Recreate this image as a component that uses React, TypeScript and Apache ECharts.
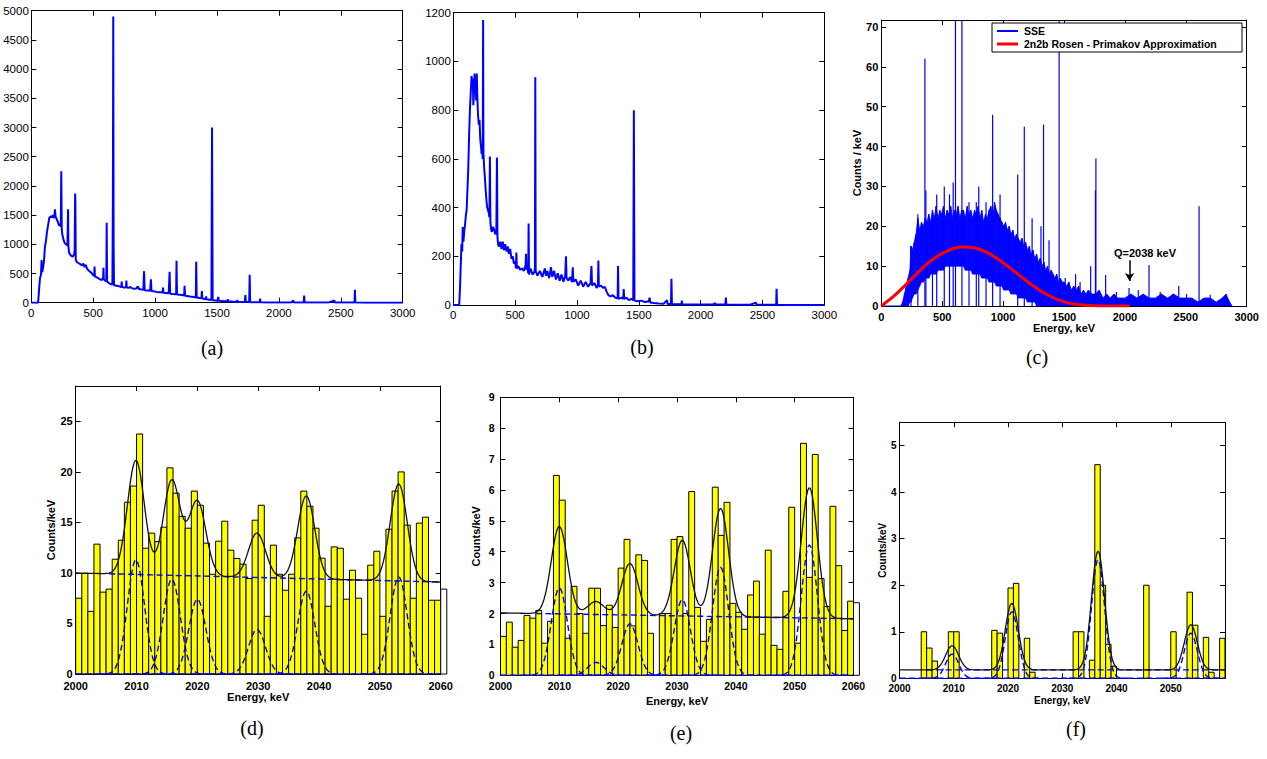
import React, { useEffect, useRef } from "react";
import * as echarts from "echarts";

// ---------- (a) spectrum: [energy keV, counts] ----------
const spectrumA: [number, number][] = [
  [0, 0], [55, 0], [62, 200], [70, 420], [78, 480], [83, 730], [88, 520], [95, 600], [102, 700], [110, 950],
  [118, 1050], [126, 1200], [135, 1320], [145, 1450], [155, 1480], [165, 1460], [175, 1500], [185, 1450],
  [191, 1600], [196, 1480], [205, 1430], [215, 1380], [225, 1320], [232, 1350], [238, 1300], [242, 2250],
  [246, 1250], [252, 1150], [260, 1080], [270, 1020], [280, 1000], [292, 980], [297, 1600], [300, 950],
  [305, 860], [315, 820], [325, 800], [335, 790], [345, 820], [350, 900], [354, 1870], [356, 1750],
  [359, 750], [365, 700], [380, 680], [395, 660], [410, 640], [420, 670], [430, 610], [440, 650], [450, 580],
  [460, 560], [470, 540], [480, 520], [490, 500], [500, 470], [508, 460], [511, 620], [514, 450], [525, 440],
  [540, 420], [555, 400], [570, 390], [580, 420], [583, 600], [586, 400], [600, 370], [606, 380], [609, 1370],
  [612, 360], [625, 340], [640, 320], [655, 310], [659, 1750], [662, 4900], [665, 1000], [668, 300],
  [690, 290], [710, 280], [727, 270], [730, 360], [733, 270], [750, 260], [765, 265], [768, 380], [771, 260],
  [790, 255], [800, 270], [810, 250], [830, 240], [850, 245], [860, 280], [870, 235], [890, 225], [905, 220],
  [911, 540], [916, 215], [940, 210], [960, 205], [966, 400], [971, 200], [990, 195], [1010, 185], [1030, 180],
  [1050, 180], [1060, 170], [1064, 260], [1068, 170], [1090, 165], [1110, 160], [1117, 530], [1122, 155],
  [1140, 150], [1160, 145], [1170, 150], [1173, 720], [1177, 140], [1200, 135], [1220, 130], [1235, 125],
  [1238, 290], [1242, 120], [1260, 115], [1280, 105], [1300, 100], [1320, 95], [1329, 90], [1332, 700],
  [1336, 88], [1360, 80], [1374, 75], [1378, 200], [1382, 72], [1400, 65], [1410, 60], [1412, 110],
  [1415, 58], [1440, 50], [1455, 45], [1460, 3000], [1465, 42], [1490, 38], [1505, 35], [1510, 100],
  [1515, 32], [1550, 28], [1580, 25], [1588, 55], [1592, 24], [1620, 20], [1660, 18], [1664, 45], [1668, 16],
  [1700, 14], [1725, 12], [1729, 130], [1733, 11], [1760, 10], [1764, 480], [1768, 9], [1800, 8], [1845, 7],
  [1848, 70], [1851, 6], [1900, 5], [2000, 4], [2100, 4], [2117, 40], [2121, 3], [2200, 3], [2204, 120],
  [2208, 3], [2300, 3], [2400, 2], [2448, 40], [2451, 2], [2550, 2], [2611, 2], [2614, 220], [2618, 2],
  [2700, 1], [2800, 1], [3000, 0],
];

// ---------- (b) spectrum ----------
const spectrumB: [number, number][] = [
  [0, 0], [48, 0], [55, 80], [60, 160], [66, 250], [72, 220], [76, 320], [82, 260], [88, 300], [95, 330],
  [102, 370], [108, 390], [115, 480], [121, 560], [128, 700], [135, 810], [142, 880], [148, 940], [153, 900],
  [158, 930], [162, 820], [167, 870], [172, 950], [176, 880], [181, 920], [185, 840], [190, 950], [194, 860],
  [200, 780], [206, 740], [212, 760], [218, 680], [224, 650], [229, 620], [234, 640], [238, 600], [241, 1170],
  [244, 620], [250, 560], [256, 520], [262, 470], [268, 430], [274, 400], [280, 390], [286, 380], [292, 360],
  [296, 610], [300, 340], [306, 310], [312, 300], [320, 320], [330, 310], [340, 290], [348, 300], [353, 605],
  [357, 280], [362, 250], [370, 240], [380, 260], [390, 230], [400, 260], [410, 225], [420, 250], [430, 220],
  [440, 240], [450, 210], [460, 230], [470, 190], [480, 200], [490, 170], [500, 180], [506, 150], [510, 215],
  [514, 150], [525, 160], [540, 145], [555, 150], [570, 140], [585, 165], [588, 210], [591, 145], [600, 150],
  [606, 130], [609, 335], [612, 125], [625, 150], [640, 125], [655, 135], [660, 150], [663, 935], [666, 140],
  [680, 120], [700, 140], [720, 115], [740, 150], [750, 120], [760, 140], [775, 110], [790, 155], [800, 115],
  [815, 140], [830, 105], [845, 130], [860, 100], [875, 125], [890, 95], [905, 120], [911, 200], [916, 110],
  [930, 100], [945, 115], [960, 95], [966, 155], [971, 95], [990, 105], [1010, 80], [1030, 100], [1050, 75],
  [1070, 95], [1090, 75], [1110, 90], [1117, 160], [1122, 80], [1140, 90], [1160, 70], [1170, 85],
  [1173, 183], [1177, 75], [1195, 80], [1210, 70], [1225, 75], [1240, 55], [1255, 40], [1270, 35], [1290, 40],
  [1310, 30], [1329, 28], [1332, 160], [1336, 25], [1360, 30], [1374, 25], [1378, 65], [1382, 25], [1400, 30],
  [1420, 20], [1440, 25], [1455, 20], [1460, 800], [1465, 18], [1490, 15], [1520, 18], [1550, 12], [1580, 15],
  [1588, 30], [1592, 10], [1620, 8], [1660, 6], [1700, 5], [1729, 20], [1733, 4], [1760, 4], [1764, 108],
  [1768, 3], [1800, 3], [1845, 3], [1848, 18], [1851, 2], [1900, 2], [2000, 2], [2100, 2], [2117, 8],
  [2121, 2], [2200, 2], [2204, 30], [2208, 1], [2300, 1], [2400, 1], [2448, 10], [2451, 1], [2550, 1],
  [2611, 1], [2614, 67], [2618, 1], [2700, 0.5], [2800, 0.5], [3000, 0],
];

// ---------- (c) SSE spectrum: dense band [energy, low, high] and lines [energy, top] ----------
const sseBand: [number, number, number][] = [
  [160, 0, 0], [175, 0, 1], [190, 0, 3], [205, 0, 5], [220, 0, 7], [235, 1, 9], [244, 1, 15], [255, 2, 14],
  [270, 3, 16], [285, 3, 18], [300, 4, 22], [315, 5, 19], [330, 6, 21], [345, 6, 20], [360, 7, 22],
  [375, 7, 21], [390, 7, 23], [405, 8, 21], [420, 8, 24], [435, 8, 22], [450, 8, 25], [465, 9, 22],
  [480, 9, 24], [495, 9, 23], [510, 9, 25], [525, 10, 22], [540, 10, 24], [555, 10, 23], [570, 10, 25],
  [585, 10, 22], [600, 10, 24], [615, 10, 23], [630, 10, 25], [645, 10, 22], [660, 10, 24], [675, 10, 24],
  [690, 9, 22], [705, 9, 25], [720, 9, 23], [735, 9, 24], [750, 8, 22], [765, 8, 24], [780, 8, 23],
  [795, 8, 25], [810, 8, 22], [825, 7, 24], [840, 7, 21], [855, 7, 23], [870, 7, 22], [885, 6, 24],
  [900, 6, 25], [915, 6, 22], [930, 6, 26], [945, 5, 24], [960, 5, 23], [975, 5, 22], [990, 5, 21],
  [1005, 4, 20], [1020, 4, 21], [1035, 4, 19], [1050, 4, 20], [1065, 3, 18], [1080, 3, 19], [1095, 3, 17],
  [1110, 3, 18], [1125, 2, 17], [1140, 2, 16], [1155, 2, 17], [1170, 2, 15], [1185, 2, 16], [1200, 1, 14],
  [1215, 1, 15], [1230, 1, 13], [1245, 1, 14], [1260, 1, 12], [1275, 0, 13], [1290, 0, 11], [1305, 0, 12],
  [1320, 0, 10], [1335, 0, 11], [1350, 0, 9], [1365, 0, 10], [1380, 0, 8], [1395, 0, 9], [1410, 0, 8],
  [1425, 0, 7], [1440, 0, 8], [1455, 0, 6], [1470, 0, 7], [1485, 0, 6], [1500, 0, 6], [1520, 0, 5],
  [1540, 0, 6], [1560, 0, 4], [1580, 0, 5], [1600, 0, 4], [1620, 0, 5], [1640, 0, 3], [1660, 0, 4],
  [1680, 0, 3], [1700, 0, 4], [1730, 0, 3], [1760, 0, 3], [1790, 0, 4], [1820, 0, 2], [1850, 0, 3],
  [1880, 0, 2], [1910, 0, 3], [1940, 0, 2], [1970, 0, 2], [2000, 0, 2], [2050, 0, 3], [2100, 0, 2],
  [2150, 0, 3], [2200, 0, 2], [2250, 0, 2], [2300, 0, 3], [2350, 0, 2], [2400, 0, 3], [2450, 0, 2],
  [2500, 0, 2], [2550, 0, 2], [2600, 0, 1], [2650, 0, 2], [2700, 0, 2], [2750, 0, 1], [2800, 0, 2],
  [2830, 0, 3], [2860, 0, 1], [2880, 0, 0],
];
const sseLines: [number, number][] = [
  [244, 15], [300, 23], [358, 62], [366, 29], [420, 24], [455, 28], [517, 30], [560, 28], [590, 31],
  [609, 80], [662, 80], [720, 26], [780, 26], [800, 30], [860, 26], [914, 48], [975, 28], [1120, 33],
  [1174, 45], [1238, 22], [1311, 20], [1332, 45.5], [1377, 16.5], [1460, 80], [1510, 7], [1595, 8],
  [1632, 6], [1719, 10], [1758, 29], [1762, 37], [1842, 7.8], [1930, 3.5], [2034, 4.5], [2110, 4],
  [2198, 10.3], [2290, 3.5], [2390, 3], [2442, 5], [2506, 3], [2609, 25], [2700, 2.8], [2822, 2.5],
];
const rosenPrimakov: [number, number][] = [
  [0, 0], [100, 2.4], [200, 5.3], [300, 8.4], [400, 11.2], [500, 13.2], [600, 14.5], [680, 14.8],
  [760, 14.6], [850, 13.7], [950, 11.9], [1050, 9.7], [1150, 7.3], [1250, 5.0], [1350, 3.0], [1450, 1.6],
  [1550, 0.7], [1650, 0.25], [1750, 0.08], [1850, 0.02], [2038, 0],
];
const qValueKeV = 2038;

// ---------- (d) histogram, 1 keV bins from 2000 ----------
const countsD: number[] = [
  7.5, 9.95, 6.2, 12.85, 8.1, 8.4, 11.36, 13.24, 17.0, 18.6,
  23.75, 12.45, 13.94, 13.1, 14.53, 20.4, 17.9, 15.6, 14.43, 18.1,
  16.7, 12.95, 9.87, 13.14, 15.12, 12.25, 11.43, 10.87, 9.45, 15.22,
  16.7, 5.71, 12.75, 9.87, 8.29, 9.87, 13.47, 18.1, 16.6, 14.43,
  11.46, 6.7, 12.58, 12.45, 7.4, 10.27, 7.5, 3.93, 10.77, 12.15,
  5.71, 14.33, 18.1, 20.0, 14.73, 7.5, 14.93, 15.52, 7.3, 7.3,
];
const overflowD: [number, number] = [2060, 8.4];
const bgD: [number, number] = [10.0, 9.1];
const peaksD: [number, number][] = [[2009.9, 11.3], [2015.8, 9.4], [2020.0, 7.4], [2029.8, 4.4], [2037.9, 8.2], [2053.1, 9.6]];
const sigmaD = 1.4;
const bgStartD = 2005.5;

// ---------- (e) histogram ----------
const countsE: number[] = [
  1.26, 1.72, 0.91, 1.13, 1.94, 1.85, 2.1, 1.04, 1.75, 6.47,
  5.67, 1.2, 2.88, 2.0, 1.36, 2.82, 2.82, 1.61, 2.27, 1.55,
  3.47, 4.4, 1.6, 3.9, 3.72, 1.36, 0, 2.0, 2.0, 4.4,
  4.49, 2.0, 5.95, 2.2, 1.1, 1.81, 6.09, 4.53, 5.6, 2.33,
  2.04, 1.49, 2.6, 3.05, 1.33, 4.05, 0.97, 0.84, 2.72, 5.44,
  1.04, 7.51, 3.17, 7.15, 3.13, 2.23, 5.47, 3.55, 1.45, 2.4,
];
const overflowE: [number, number] = [2060, 2.35];
const bgE: [number, number] = [2.02, 1.83];
const peaksE: [number, number][] = [[2010.0, 2.83], [2016.2, 0.42], [2022.0, 1.67], [2030.9, 2.45], [2037.4, 3.5], [2052.5, 4.22]];
const sigmaE = 1.37;
const bgStartE = 2006;

// ---------- (f) histogram (sparse bins) ----------
const binsF: [number, number][] = [
  [2004, 1.0], [2005, 0.65], [2006, 0.37], [2009, 1.0], [2010, 1.0], [2017, 1.03], [2018, 0.97],
  [2020, 1.94], [2021, 2.04], [2023, 0.86], [2024, 0.13], [2032, 1.0], [2033, 1.0], [2035, 0.39],
  [2036, 4.59], [2037, 2.0], [2038, 0.73], [2039, 0.26], [2045, 2.0], [2050, 1.0], [2053, 1.85],
  [2054, 1.14], [2056, 0.88], [2057, 0.13], [2059, 0.86],
];
const bgF: [number, number] = [0.18, 0.18];
const peaksF: [number, number][] = [[2009.7, 0.52], [2020.7, 1.43], [2036.6, 2.55], [2053.7, 0.97]];
const sigmaF = 1.2;
const bgStartF = 2005;

// ---------- axes ----------
const xScales: [number, number, number][] = [[0, 3000, 500], [0, 3000, 500], [0, 3000, 500], [2000, 2060, 10], [2000, 2060, 10], [2000, 2060, 10]];
const yScales: [number, number, number][] = [[0, 5000, 500], [0, 1200, 200], [0, 71.75, 10], [0, 28.5, 5], [0, 9, 1], [0, 5.5, 1]];
const xNames = ["", "", "Energy, keV", "Energy, keV", "Energy, keV", "Energy, keV"];
const yNames = ["", "", "Counts / keV", "Counts/keV", "Counts/keV", "Counts/keV"];
const captions = ["(a)", "(b)", "(c)", "(d)", "(e)", "(f)"];

const SANS = '"Liberation Sans", Arial, Helvetica, sans-serif';
const SERIF = '"Liberation Serif", "Times New Roman", serif';
const BLUE = "#0000FF";
const YELLOW = "#FFFF00";

const grids = [
  { left: 31.3, top: 10.7, width: 371.4, height: 292 },
  { left: 453.3, top: 12.7, width: 371, height: 292.3 },
  { left: 881.3, top: 20, width: 365.4, height: 286 },
  { left: 75.7, top: 386, width: 365, height: 288 },
  { left: 500.5, top: 397.3, width: 353, height: 278 },
  { left: 899.5, top: 422.3, width: 325.5, height: 256 },
];
const labelStyle = [
  { size: 11.5, weight: "normal", mx: 4, my: 2.5, showMaxX: true, showMaxY: true },
  { size: 11.5, weight: "normal", mx: 3.5, my: 2.5, showMaxX: true, showMaxY: true },
  { size: 11, weight: "bold", mx: 5, my: 3, showMaxX: true, showMaxY: false },
  { size: 11, weight: "bold", mx: 6, my: 3, showMaxX: true, showMaxY: false },
  { size: 10.5, weight: "bold", mx: 5, my: 6, showMaxX: true, showMaxY: true },
  { size: 10, weight: "bold", mx: 5, my: 3, showMaxX: false, showMaxY: false },
];
const nameGapX = [0, 0, 16, 15, 20, 17.5];
const nameGapY = [0, 0, 19, 18, 19.5, 12];
const nameSize = [11, 11, 11, 11, 11, 10];
const captionPos: [number, number][] = [[212, 348], [642, 347], [1037, 357], [252, 728], [681, 733], [1076, 729]];

function bgAt(bg: [number, number], e: number) {
  return bg[0] + ((bg[1] - bg[0]) * (e - 2000)) / 60;
}
function gauss(p: [number, number], sigma: number, e: number) {
  return p[1] * Math.exp(-((e - p[0]) * (e - p[0])) / (2 * sigma * sigma));
}
function fitTotal(bg: [number, number], peaks: [number, number][], sigma: number) {
  const out: [number, number][] = [];
  for (let i = 0; i <= 300; i++) {
    const e = 2000 + i * 0.2;
    let v = bgAt(bg, e);
    for (const p of peaks) v += gauss(p, sigma, e);
    out.push([e, v]);
  }
  return out;
}
function fitComponent(p: [number, number], sigma: number) {
  const out: [number, number][] = [];
  const lo = Math.max(2000, p[0] - 4.5 * sigma);
  const hi = Math.min(2060, p[0] + 4.5 * sigma);
  const n = 60;
  for (let i = 0; i <= n; i++) {
    const e = lo + ((hi - lo) * i) / n;
    out.push([e, gauss(p, sigma, e)]);
  }
  return out;
}

function barRender(fill: string) {
  return (_params: any, api: any) => {
    const e = api.value(0);
    const h = api.value(1);
    const a = api.coord([e, 0]);
    const b = api.coord([e + 1, h]);
    return {
      type: "rect",
      shape: { x: a[0], y: b[1], width: b[0] - a[0], height: a[1] - b[1] },
      style: { fill, stroke: "#000", lineWidth: 1 },
    };
  };
}

const plainNumber = (v: number) => String(v);

function buildAxes() {
  const xAxis: any[] = [];
  const yAxis: any[] = [];
  for (let i = 0; i < 6; i++) {
    const ls = labelStyle[i];
    const [xmin, xmax, xint] = xScales[i];
    const [ymin, ymax, yint] = yScales[i];
    const line = { show: true, onZero: false, lineStyle: { color: "#000", width: 1 } };
    const tick = { show: true, inside: true, length: 5, lineStyle: { color: "#000", width: 1 } };
    const nameStyle = { color: "#000", fontSize: nameSize[i], fontWeight: "bold", fontFamily: SANS };
    xAxis.push({
      type: "value", gridIndex: i, min: xmin, max: xmax, interval: xint, position: "bottom",
      axisLine: line, axisTick: tick, splitLine: { show: false },
      axisLabel: { color: "#000", fontSize: ls.size, fontWeight: ls.weight, fontFamily: SANS, margin: ls.mx, showMaxLabel: ls.showMaxX, showMinLabel: true, formatter: plainNumber },
      name: xNames[i], nameLocation: "middle", nameGap: nameGapX[i], nameTextStyle: nameStyle,
    });
    xAxis.push({
      type: "value", gridIndex: i, min: xmin, max: xmax, interval: xint, position: "top",
      axisLine: line, axisTick: tick, splitLine: { show: false }, axisLabel: { show: false },
    });
    yAxis.push({
      type: "value", gridIndex: i, min: ymin, max: ymax, interval: yint, position: "left",
      axisLine: line, axisTick: tick, splitLine: { show: false },
      axisLabel: { color: "#000", fontSize: ls.size, fontWeight: ls.weight, fontFamily: SANS, margin: ls.my, showMaxLabel: ls.showMaxY, showMinLabel: true, formatter: plainNumber },
      name: yNames[i], nameLocation: "middle", nameGap: nameGapY[i], nameRotate: 90, nameTextStyle: nameStyle,
    });
    yAxis.push({
      type: "value", gridIndex: i, min: ymin, max: ymax, interval: yint, position: "right",
      axisLine: line, axisTick: tick, splitLine: { show: false }, axisLabel: { show: false },
    });
  }
  return { xAxis, yAxis };
}

function fitSeries(gi: number, bars: [number, number][], overflow: [number, number] | null,
  bg: [number, number], peaks: [number, number][], sigma: number, bgStart: number) {
  const ax = { xAxisIndex: gi * 2, yAxisIndex: gi * 2 };
  const dash = { color: BLUE, width: 1.4, type: [6, 3.5] as any };
  const s: any[] = [];
  s.push({ type: "custom", ...ax, renderItem: barRender(YELLOW), data: bars, clip: false, z: 2, silent: true });
  if (overflow) {
    s.push({ type: "custom", ...ax, renderItem: barRender("#FFFFFF"), data: [overflow], clip: false, z: 2, silent: true });
  }
  s.push({ type: "line", ...ax, data: [[2000, 0], [2060, 0]], showSymbol: false, lineStyle: dash, z: 3, silent: true });
  s.push({ type: "line", ...ax, data: [[bgStart, bgAt(bg, bgStart)], [2060, bgAt(bg, 2060)]], showSymbol: false, lineStyle: dash, z: 3, silent: true });
  for (const p of peaks) {
    s.push({ type: "line", ...ax, data: fitComponent(p, sigma), showSymbol: false, lineStyle: dash, z: 3, silent: true });
  }
  s.push({ type: "line", ...ax, data: fitTotal(bg, peaks, sigma), showSymbol: false, lineStyle: { color: "#111", width: 1.3 }, z: 4, silent: true });
  return s;
}

function buildOption() {
  const { xAxis, yAxis } = buildAxes();
  const series: any[] = [];
  // (a)
  series.push({ type: "line", xAxisIndex: 0, yAxisIndex: 0, data: spectrumA, showSymbol: false, lineStyle: { color: BLUE, width: 2 }, silent: true });
  // (b)
  series.push({ type: "line", xAxisIndex: 2, yAxisIndex: 2, data: spectrumB, showSymbol: false, lineStyle: { color: BLUE, width: 2 }, silent: true });
  // (c) band drawn as quads between consecutive envelope points
  const bandSegs = sseBand.slice(0, -1).map((d, i) => [d[0], d[1], d[2], sseBand[i + 1][0], sseBand[i + 1][1], sseBand[i + 1][2]]);
  series.push({
    type: "custom", xAxisIndex: 4, yAxisIndex: 4, data: bandSegs, clip: true, z: 2, silent: true,
    dimensions: ["e0", "l0", "h0", "e1", "l1", "h1"],
    encode: { x: [0, 3], y: [1, 2, 4, 5] },
    renderItem: (_p: any, api: any) => {
      const p1 = api.coord([api.value(0), api.value(1)]);
      const p2 = api.coord([api.value(3), api.value(4)]);
      const p3 = api.coord([api.value(3), api.value(5)]);
      const p4 = api.coord([api.value(0), api.value(2)]);
      return { type: "polygon", shape: { points: [p1, p2, p3, p4] }, style: { fill: BLUE, stroke: BLUE, lineWidth: 0.8 } };
    },
  });
  series.push({
    type: "line", xAxisIndex: 4, yAxisIndex: 4, data: [[0, 0], [160, 0]], showSymbol: false,
    lineStyle: { color: BLUE, width: 1.2 }, silent: true, z: 2,
  });
  series.push({
    type: "custom", xAxisIndex: 4, yAxisIndex: 4, data: sseLines, clip: true, z: 3, silent: true,
    renderItem: (_p: any, api: any) => {
      const a = api.coord([api.value(0), 0]);
      const b = api.coord([api.value(0), api.value(1)]);
      return { type: "line", shape: { x1: a[0], y1: a[1], x2: b[0], y2: b[1] }, style: { stroke: BLUE, lineWidth: 1.2 } };
    },
  });
  series.push({
    type: "line", xAxisIndex: 4, yAxisIndex: 4, data: rosenPrimakov, smooth: 0.3, showSymbol: false,
    lineStyle: { color: "#FF0000", width: 3 }, z: 5, silent: true,
    markLine: {
      silent: true, symbol: ["none", "arrow"], symbolSize: [7, 8], animation: false,
      lineStyle: { color: "#000", width: 1.5, type: "solid" }, label: { show: false },
      data: [[{ coord: [qValueKeV, 11.5] }, { coord: [qValueKeV, 6.3] }]],
    },
  });
  // (d), (e), (f)
  series.push(...fitSeries(3, countsD.map((v, i) => [2000 + i, v] as [number, number]), overflowD, bgD, peaksD, sigmaD, bgStartD));
  series.push(...fitSeries(4, countsE.map((v, i) => [2000 + i, v] as [number, number]), overflowE, bgE, peaksE, sigmaE, bgStartE));
  series.push(...fitSeries(5, binsF, null, bgF, peaksF, sigmaF, bgStartF));

  const graphic: any[] = captions.map((t, i) => ({
    type: "text", x: captionPos[i][0], y: captionPos[i][1], z: 100,
    style: { text: t, font: `20px ${SERIF}`, fill: "#000", align: "center", verticalAlign: "middle" },
  }));
  graphic.push(
    { type: "rect", z: 100, shape: { x: 992, y: 23, width: 250, height: 29 }, style: { fill: "#fff", stroke: "#000", lineWidth: 1 } },
    { type: "line", z: 101, shape: { x1: 997, y1: 31, x2: 1018, y2: 31 }, style: { stroke: BLUE, lineWidth: 2 } },
    { type: "line", z: 101, shape: { x1: 997, y1: 44, x2: 1018, y2: 44 }, style: { stroke: "#FF0000", lineWidth: 3 } },
    { type: "text", z: 101, x: 1024, y: 31, style: { text: "SSE", font: `bold 10.5px ${SANS}`, fill: "#000", align: "left", verticalAlign: "middle" } },
    { type: "text", z: 101, x: 1024, y: 44, style: { text: "2n2b Rosen - Primakov Approximation", font: `bold 10.5px ${SANS}`, fill: "#000", align: "left", verticalAlign: "middle" } },
    { type: "text", z: 101, x: 1145, y: 253, style: { text: "Q=2038 keV", font: `bold 11px ${SANS}`, fill: "#000", align: "center", verticalAlign: "middle" } },
  );

  return {
    animation: false,
    backgroundColor: "#fff",
    grid: grids.map((g) => ({ ...g, containLabel: false, outerBoundsMode: "none" })),
    xAxis,
    yAxis,
    series,
    graphic,
  };
}

export default function App() {
  const ref = useRef<HTMLDivElement>(null);
  useEffect(() => {
    if (!ref.current) return;
    const chart = echarts.init(ref.current, undefined, { renderer: "svg", width: 1267, height: 759 });
    chart.setOption(buildOption() as any);
    return () => chart.dispose();
  }, []);
  return <div ref={ref} style={{ position: "absolute", left: 0, top: 0, width: 1267, height: 759, background: "#fff" }} />;
}
